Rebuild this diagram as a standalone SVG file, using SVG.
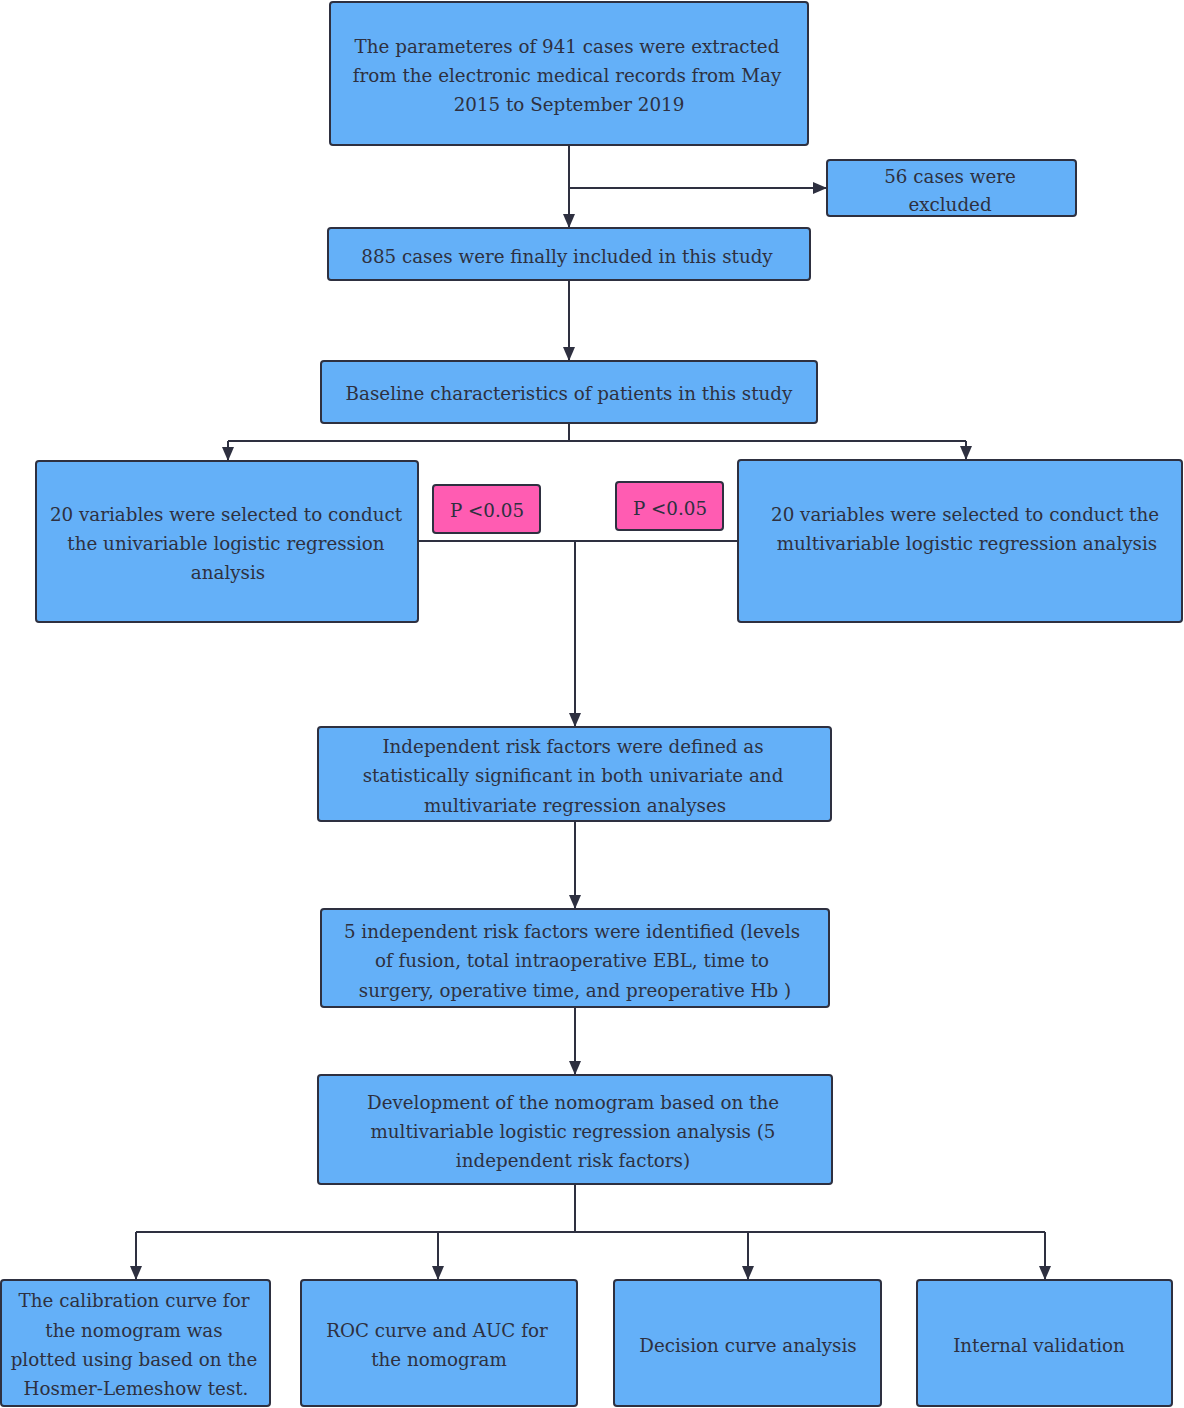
<svg xmlns="http://www.w3.org/2000/svg" width="1184" height="1408" viewBox="0 0 1184 1408">
<defs>
<marker id="ah" markerWidth="14" markerHeight="12" refX="13" refY="6" orient="auto" markerUnits="userSpaceOnUse" viewBox="0 0 14 12">
<path d="M0,0 L14,6 L0,12 Z" fill="#2e3040"/>
</marker>
<style>
.box{fill:#64b0f8;stroke:#2e3040;stroke-width:2}
.pink{fill:#ff5cb2;stroke:#2e3040;stroke-width:2}
.t text{font-family:'DejaVu Serif','Liberation Serif',serif;font-size:18.3px;fill:#2e3040;text-anchor:middle;dominant-baseline:central}
.ln{fill:none;stroke:#2e3040;stroke-width:2}
</style>
</defs>
<rect width="1184" height="1408" fill="#ffffff"/>
<g id="connectors">
<path class="ln" d="M569,145 V227" marker-end="url(#ah)"/>
<path class="ln" d="M569,188 H826" marker-end="url(#ah)"/>
<path class="ln" d="M569,280 V360" marker-end="url(#ah)"/>
<path class="ln" d="M569,423 V441"/>
<path class="ln" d="M228,441 H966"/>
<path class="ln" d="M228,441 V460" marker-end="url(#ah)"/>
<path class="ln" d="M966,441 V459" marker-end="url(#ah)"/>
<path class="ln" d="M418,541 H738"/>
<path class="ln" d="M575,541 V726" marker-end="url(#ah)"/>
<path class="ln" d="M575,821 V908" marker-end="url(#ah)"/>
<path class="ln" d="M575,1007 V1074" marker-end="url(#ah)"/>
<path class="ln" d="M575,1184 V1232"/>
<path class="ln" d="M136,1232 H1045"/>
<path class="ln" d="M136,1232 V1279" marker-end="url(#ah)"/>
<path class="ln" d="M438,1232 V1279" marker-end="url(#ah)"/>
<path class="ln" d="M748,1232 V1279" marker-end="url(#ah)"/>
<path class="ln" d="M1045,1232 V1279" marker-end="url(#ah)"/>
</g>
<g class="t">
<g id="n1"><rect class="box" x="330" y="2" width="478" height="143" rx="3"/>
<text x="567" y="46">The parameteres of 941 cases were extracted</text>
<text x="567" y="75">from the electronic medical records from May</text>
<text x="569" y="104">2015 to September 2019</text></g>
<g id="n2"><rect class="box" x="827" y="160" width="249" height="56" rx="3"/>
<text x="950" y="176">56 cases were</text>
<text x="950" y="204">excluded</text></g>
<g id="n3"><rect class="box" x="328" y="228" width="482" height="52" rx="3"/>
<text x="567" y="256">885 cases were finally included in this study</text></g>
<g id="n4"><rect class="box" x="321" y="361" width="496" height="62" rx="3"/>
<text x="569" y="393">Baseline characteristics of patients in this study</text></g>
<g id="n5"><rect class="box" x="36" y="461" width="382" height="161" rx="3"/>
<text x="226" y="514">20 variables were selected to conduct</text>
<text x="226" y="543">the univariable logistic regression</text>
<text x="228" y="572">analysis</text></g>
<g id="n6"><rect class="box" x="738" y="460" width="444" height="162" rx="3"/>
<text x="965" y="514">20 variables were selected to conduct the</text>
<text x="967" y="543">multivariable logistic regression analysis</text></g>
<g id="p1"><rect class="pink" x="433" y="485" width="107" height="48" rx="3"/>
<text x="487" y="510">P &lt;0.05</text></g>
<g id="p2"><rect class="pink" x="616" y="482" width="107" height="48" rx="3"/>
<text x="670" y="508">P &lt;0.05</text></g>
<g id="n7"><rect class="box" x="318" y="727" width="513" height="94" rx="3"/>
<text x="573" y="746">Independent risk factors were defined as</text>
<text x="573" y="775">statistically significant in both univariate and</text>
<text x="575" y="805">multivariate regression analyses</text></g>
<g id="n8"><rect class="box" x="321" y="909" width="508" height="98" rx="3"/>
<text x="572" y="931">5 independent risk factors were identified (levels</text>
<text x="572" y="960">of fusion, total intraoperative EBL, time to</text>
<text x="575" y="990">surgery, operative time, and preoperative Hb )</text></g>
<g id="n9"><rect class="box" x="318" y="1075" width="514" height="109" rx="3"/>
<text x="573" y="1102">Development of the nomogram based on the</text>
<text x="573" y="1131">multivariable logistic regression analysis (5</text>
<text x="573" y="1160">independent risk factors)</text></g>
<g id="n10"><rect class="box" x="1" y="1280" width="269" height="126" rx="3"/>
<text x="134" y="1300">The calibration curve for</text>
<text x="134" y="1330">the nomogram was</text>
<text x="134" y="1359">plotted using based on the</text>
<text x="136" y="1388">Hosmer-Lemeshow test.</text></g>
<g id="n11"><rect class="box" x="301" y="1280" width="276" height="126" rx="3"/>
<text x="437" y="1330">ROC curve and AUC for</text>
<text x="439" y="1359">the nomogram</text></g>
<g id="n12"><rect class="box" x="614" y="1280" width="267" height="126" rx="3"/>
<text x="748" y="1345">Decision curve analysis</text></g>
<g id="n13"><rect class="box" x="917" y="1280" width="255" height="126" rx="3"/>
<text x="1039" y="1345">Internal validation</text></g>
</g>
</svg>
